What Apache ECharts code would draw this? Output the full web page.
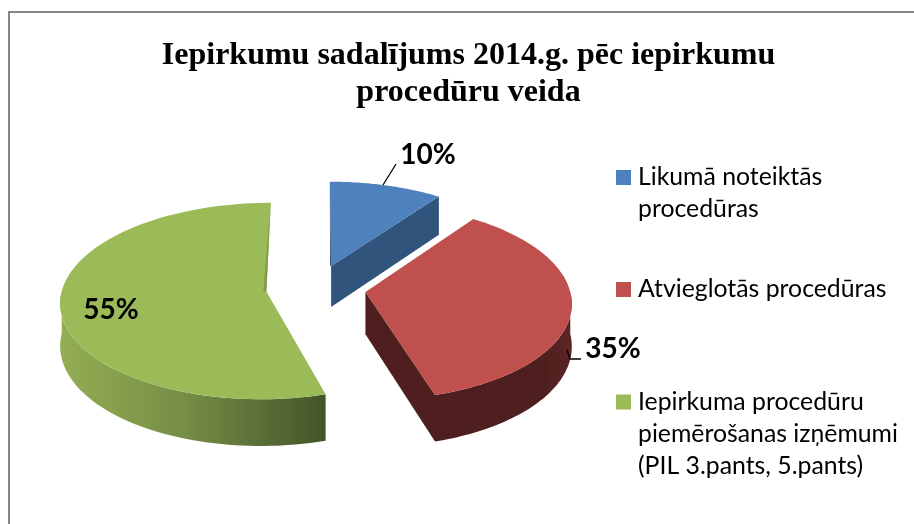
<!DOCTYPE html>
<html>
<head>
<meta charset="utf-8">
<style>
  html, body { margin: 0; padding: 0; background: #fff; }
  #chart { width: 914px; height: 524px; }
</style>
<script src="https://cdn.jsdelivr.net/npm/echarts@6/dist/echarts.min.js"></script>
</head>
<body>
<div id="chart"></div>
<script>
const categories = ['Likumā noteiktās\nprocedūras', 'Atvieglotās procedūras', 'Iepirkuma procedūru\npiemērošanas izņēmumi\n(PIL 3.pants, 5.pants)']
const values = [10, 35.4, 54.6]
const titleText = 'Iepirkumu sadalījums 2014.g. pēc iepirkumu\nprocedūru veida'

const topColors = ['#4f81bd', '#c0504d', '#9bbb59']
const wallColors = [
  [[0, '#31557c'], [1, '#2f5278']],
  [[0, '#4e1f1e'], [0.8, '#4e1f1e'], [1, '#5c2524']],
  [[0, '#93ae54'], [0.45, '#778f45'], [1, '#44542a']]
]
const cutColors = ['#30547b', '#4e1f1e', '#44542a']

// flat disc (u, v) seen in perspective, v grows towards the viewer
const pie = { cx: 316, cy: 288, a: 204, b: 96.6, depth: 42, k: 0.0975, explode: 0.245 }
const labelPos = [[428, 155], [613, 349], [111, 310]]
const leaders = [[[383, 185], [396, 164]], [[567, 350], [570, 359], [581, 359]], null]
const legendIconY = [177.5, 289.5, 402]
const legendLineHeight = 32

const total = values.reduce((s, v) => s + v, 0)
const slices = []
let acc = 0
values.forEach(v => {
  const start = acc / total * Math.PI * 2
  acc += v
  slices.push({ start, end: acc / total * Math.PI * 2 })
})

function project(u, v, h) {
  const s = 1 / (1 - pie.k * v)
  return [pie.cx + pie.a * u * s, pie.cy + pie.b * v * s + pie.depth * h * s]
}

function slicePoint(sl, theta, r, h) {
  const mid = (sl.start + sl.end) / 2
  const u = pie.explode * Math.sin(mid) + r * Math.sin(theta)
  const v = -pie.explode * Math.cos(mid) - r * Math.cos(theta)
  return project(u, v, h)
}

function arc(sl, from, to, h) {
  const pts = []
  const n = 60
  for (let i = 0; i <= n; i++) pts.push(slicePoint(sl, from + (to - from) * i / n, 1, h))
  return pts
}

function renderSlice(i) {
  return function (params, api) {
    const sl = slices[i]
    const children = []
    const apexTop = slicePoint(sl, sl.start, 0, 0)
    const apexBottom = slicePoint(sl, sl.start, 0, 1)

    // cut faces, only the ones that turn towards the viewer
    const addCut = theta => children.push({
      type: 'polygon',
      shape: { points: [apexTop, slicePoint(sl, theta, 1, 0), slicePoint(sl, theta, 1, 1), apexBottom] },
      style: { fill: cutColors[i] }
    })
    if (Math.sin(sl.start) < -1e-6) addCut(sl.start)
    if (Math.sin(sl.end) > 1e-6) addCut(sl.end)

    // outer wall
    const from = Math.max(sl.start, Math.PI / 2)
    const to = Math.min(sl.end, Math.PI * 3 / 2)
    if (to > from) {
      children.push({
        type: 'polygon',
        shape: { points: arc(sl, from, to, 0).concat(arc(sl, from, to, 1).reverse()) },
        style: { fill: new echarts.graphic.LinearGradient(0, 0, 1, 0, wallColors[i].map(c => ({ offset: c[0], color: c[1] }))) }
      })
    }

    // top face
    children.push({
      type: 'polygon',
      shape: { points: [apexTop].concat(arc(sl, sl.start, sl.end, 0)) },
      style: { fill: topColors[i] }
    })

    // thin dark sliver along the 12 o'clock edge
    const edge = i === 0 ? sl.start : i === values.length - 1 ? sl.end : null
    if (edge !== null) {
      children.push({
        type: 'polygon',
        shape: { points: [slicePoint(sl, edge, 1, 0), apexTop, [apexTop[0] - (i === 0 ? 1 : 3), apexTop[1]]] },
        style: { fill: i === 0 ? '#2b4a6e' : '#7f9a48' }
      })
    }

    if (leaders[i]) {
      children.push({
        type: 'polyline',
        shape: { points: leaders[i] },
        style: { stroke: '#000', lineWidth: 1.3, fill: null }
      })
    }
    children.push({
      type: 'text',
      x: labelPos[i][0],
      y: labelPos[i][1],
      style: {
        text: Math.round(api.value(0)) + '%',
        fill: '#000',
        font: 'bold 28px Lato',
        align: 'center',
        verticalAlign: 'middle'
      }
    })
    return { type: 'group', children }
  }
}

// the legend centres its icon on the text block, blank leading lines
// bring the icon level with the first real line
function legendOption(name, i) {
  const lines = name.split('\n').length
  const blanks = lines - 1
  return {
    data: [{ name, icon: 'path://M0 0H15V15H0Z', symbolKeepAspect: true }],
    orient: 'vertical',
    left: 616,
    top: legendIconY[i] - (lines + blanks) * legendLineHeight / 2,
    itemWidth: 19,
    itemHeight: 15,
    padding: 0,
    selectedMode: false,
    formatter: n => '\n'.repeat(blanks) + n,
    textStyle: { fontFamily: 'Lato', fontSize: 24.8, lineHeight: legendLineHeight, color: '#000' }
  }
}

const chart = echarts.init(document.getElementById('chart'), null, { renderer: 'canvas' })
chart.setOption({
  animation: false,
  backgroundColor: '#fff',
  title: {
    text: titleText,
    left: 463.5,
    top: 32,
    textAlign: 'center',
    textStyle: { fontFamily: 'Liberation Serif', fontWeight: 'bold', fontSize: 32, lineHeight: 37, color: '#000' }
  },
  legend: categories.map(legendOption),
  graphic: [{
    type: 'rect',
    silent: true,
    shape: { x: 9, y: 12, width: 1000, height: 1000 },
    style: { fill: null, stroke: '#868686', lineWidth: 2 }
  }],
  series: categories.map((name, i) => ({
    type: 'custom',
    name,
    coordinateSystem: 'none',
    silent: true,
    itemStyle: { color: topColors[i] },
    renderItem: renderSlice(i),
    data: [values[i]]
  }))
})
</script>
</body>
</html>
